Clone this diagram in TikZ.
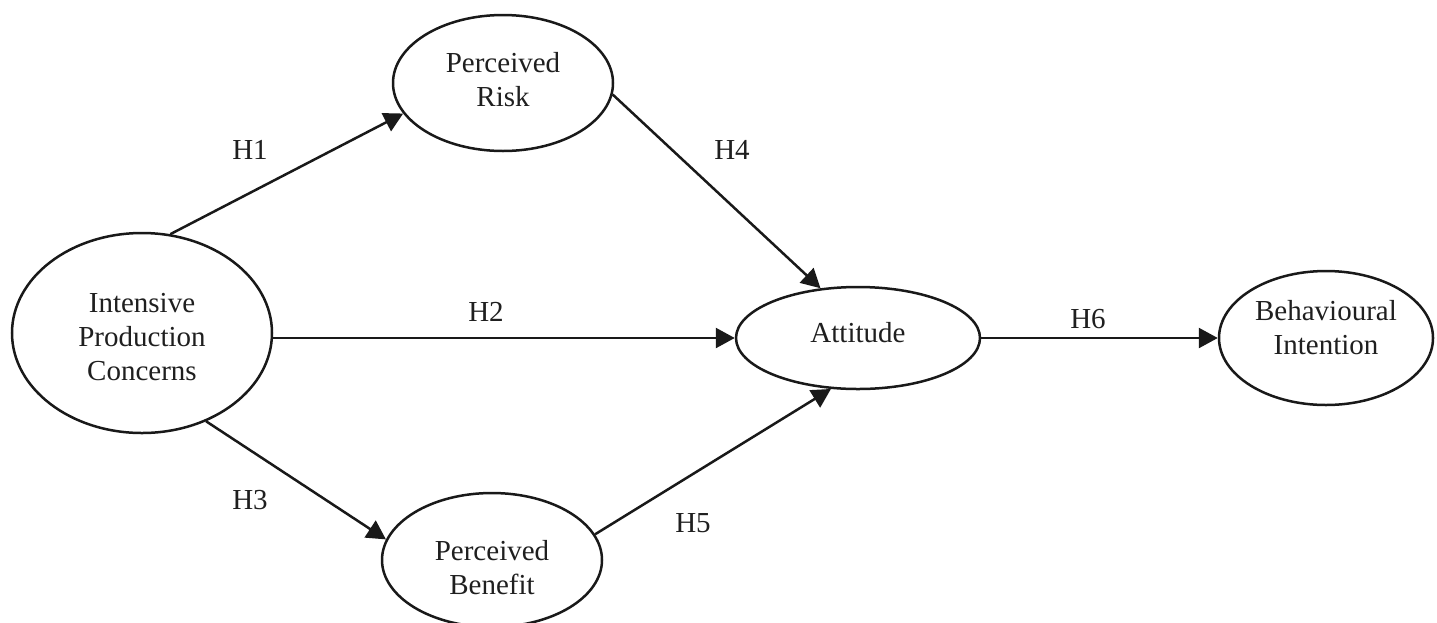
\documentclass[tikz,border=0pt]{standalone}
\usepackage{fontspec}
\setmainfont{Liberation Serif}
\usetikzlibrary{arrows.meta,shapes.geometric}
\begin{document}
\begin{tikzpicture}[x=1pt,y=-1pt,
  construct/.style={ellipse, draw=black!90, line width=2.5pt, inner sep=0pt},
  ctext/.style={align=center, font=\fontsize{29}{34}\selectfont, text=black!88},
  path/.style={draw=black!90, line width=2.5pt, -{Triangle[length=19pt,width=20pt]}},
  hyp/.style={font=\fontsize{29}{34.5}\selectfont, text=black!88}]
\useasboundingbox (0,0) rectangle (1437,622);
\node[construct, minimum width=260pt, minimum height=200pt] (ipc) at (142,333) {};
\node[construct, minimum width=220pt, minimum height=136pt] (pr) at (503,83) {};
\node[construct, minimum width=244pt, minimum height=102pt] (att) at (858,338) {};
\node[construct, minimum width=214pt, minimum height=134pt] (bi) at (1326,338) {};
\node[construct, minimum width=220pt, minimum height=134pt] (pb) at (492,560) {};

\node[ctext] (ipct) at (142,337) {Intensive\\Production\\Concerns};
\node[ctext] (prt) at (503,80) {Perceived\\Risk};
\node[ctext] (attt) at (858,333) {Attitude};
\node[ctext] (bit) at (1326,328) {Behavioural\\Intention};
\node[ctext] (pbt) at (492,568) {Perceived\\Benefit};

\draw[path] (ipc.74) -- (pr.197);
\draw[path] (att.west -| ipc.east) -- (att.west);
\draw[path] (ipc.-54) -- (pb.169);
\draw[path] (pr.-6) -- (att.127);
\draw[path] (pb.14) -- (att.242);
\draw[path] (att.east) -- (bi.west);

\node[hyp] (h1) at (250,150) {H1};
\node[hyp] (h2) at (486,312) {H2};
\node[hyp] (h3) at (250,500) {H3};
\node[hyp] (h4) at (732,150) {H4};
\node[hyp] (h5) at (693,523) {H5};
\node[hyp] (h6) at (1088,319) {H6};
\end{tikzpicture}
\end{document}
